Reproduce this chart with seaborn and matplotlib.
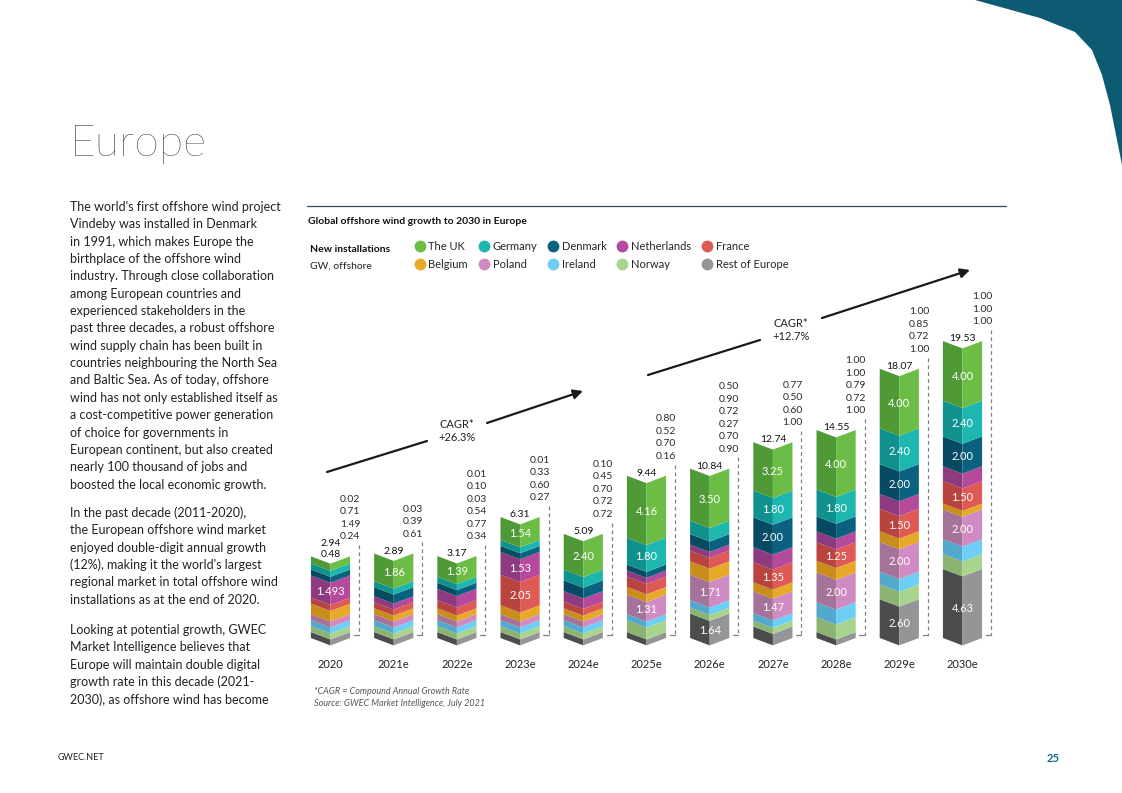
import numpy as np
import pandas as pd
import matplotlib
matplotlib.use("Agg")
import matplotlib.pyplot as plt
import seaborn as sns
from matplotlib.lines import Line2D
from matplotlib.patches import Polygon
from matplotlib.transforms import Affine2D

sns.set_theme(style="white")
plt.rcParams["font.family"] = ["Lato", "DejaVu Sans"]

# categories
years = ["2020", "2021e", "2022e", "2023e", "2024e", "2025e",
         "2026e", "2027e", "2028e", "2029e", "2030e"]
countries = ["The UK", "Germany", "Denmark", "Netherlands", "France",
             "Belgium", "Poland", "Ireland", "Norway", "Rest of Europe"]

# new installations, GW
uk = [0.48, 1.86, 1.39, 1.54, 2.40, 4.16, 3.50, 3.25, 4.00, 4.00, 4.00]
germany = [0.24, 0, 0.34, 0.27, 0.72, 1.80, 0.90, 1.80, 1.80, 2.40, 2.40]
denmark = [0, 0.61, 0, 0, 0.72, 0.16, 0.70, 2.00, 1.00, 2.00, 2.00]
netherlands = [1.493, 0.39, 0.77, 1.53, 0.70, 0, 0.27, 1.00, 0.72, 1.00, 1.00]
france = [0, 0, 0.54, 2.05, 0.45, 0.70, 0.72, 1.35, 1.25, 1.50, 1.50]
belgium = [0.71, 0, 0.03, 0.60, 0, 0.52, 0.90, 0.60, 0.79, 0.72, 0]
poland = [0, 0, 0, 0, 0, 1.31, 1.71, 1.47, 2.00, 2.00, 2.00]
ireland = [0, 0, 0, 0, 0, 0, 0.50, 0.50, 1.00, 0.85, 1.00]
norway = [0, 0, 0.10, 0.33, 0, 0.80, 0, 0, 1.00, 1.00, 1.00]
rest = [0.02, 0.03, 0.01, 0.01, 0.10, 0, 1.64, 0.77, 0, 2.60, 4.63]

totals = [2.94, 2.89, 3.17, 6.31, 5.09, 9.44, 10.84, 12.74, 14.55, 18.07, 19.53]

# small values listed beside each bar (top to bottom, as printed)
side_labels = [
    ["0.02", "0.71", "1.49", "0.24"],
    ["0.03", "0.39", "0.61"],
    ["0.01", "0.10", "0.03", "0.54", "0.77", "0.34"],
    ["0.01", "0.33", "0.60", "0.27"],
    ["0.10", "0.45", "0.70", "0.72", "0.72"],
    ["0.80", "0.52", "0.70", "0.16"],
    ["0.50", "0.90", "0.72", "0.27", "0.70", "0.90"],
    ["0.77", "0.50", "0.60", "1.00"],
    ["1.00", "1.00", "0.79", "0.72", "1.00"],
    ["1.00", "0.85", "0.72", "1.00"],
    ["1.00", "1.00", "1.00"],
]

# segments that carry their value inside the bar
inbar = [
    ["Netherlands"],
    ["The UK"],
    ["The UK"],
    ["The UK", "Netherlands", "France"],
    ["The UK"],
    ["The UK", "Germany", "Poland"],
    ["The UK", "Poland", "Rest of Europe"],
    ["The UK", "Germany", "Denmark", "France", "Poland"],
    ["The UK", "Germany", "France", "Poland"],
    ["The UK", "Germany", "Denmark", "France", "Poland", "Rest of Europe"],
    ["The UK", "Germany", "Denmark", "France", "Poland", "Rest of Europe"],
]

light = ["#6cbd45", "#1db7b0", "#0b6280", "#b54a9d", "#e05a55",
         "#e7a92a", "#d08bc2", "#6dcff6", "#a9d48e", "#959598"]
dark = ["#4f9a36", "#11918d", "#064b63", "#8e3a7e", "#b9443f",
        "#c88d1b", "#a57299", "#53a9cc", "#8bb473", "#4b4c4e"]

values = np.array([uk, germany, denmark, netherlands, france,
                   belgium, poland, ireland, norway, rest])
n = len(years)
shown = np.maximum(values, 0.4)  # keep thin layers visible, as the original does

W, H = 1122, 793
fig = plt.figure(figsize=(W / 100, H / 100), dpi=100)
fig.patch.set_facecolor("white")


def fx(px):
    return px / W


def fy(py):
    return 1 - py / H


# chart axes: bar centres at ~330px + 63.2px steps, baseline at y=638px
scale = 14.9
ax_left = 330.5 - 31.6
ax_w = 63.2 * 11
ax_bot, ax_top = 652, 280
ax = fig.add_axes([fx(ax_left), fy(ax_bot), ax_w / W, (ax_bot - ax_top) / H])

bottom = np.zeros(n)
base = {}
for c in reversed(range(len(countries))):
    df = pd.DataFrame({"year": years * 2,
                       "face": ["L"] * n + ["R"] * n,
                       "h": list(shown[c]) * 2})
    sns.barplot(data=df, x="year", y="h", hue="face", order=years,
                hue_order=["L", "R"], palette={"L": dark[c], "R": light[c]},
                width=0.62, gap=0, dodge=True, errorbar=None, saturation=1,
                bottom=bottom, legend=False, linewidth=0, ax=ax)
    base[c] = bottom.copy()
    bottom = bottom + shown[c]
tops = bottom

# turn each half bar into a slanted face -> chevron look
k = 1.6
half = 0.31
for p in ax.patches:
    x0, w = p.get_x(), p.get_width()
    x1 = x0 + w
    if abs(x1 - round(x1)) < 1e-6:
        skew = Affine2D.from_values(1, -k, 0, 1, 0, k * x0)
    else:
        skew = Affine2D.from_values(1, k, 0, 1, 0, -k * x1)
    p.set_transform(skew + ax.transData)

ax.set_xlim(-0.5, n - 0.5)
ax.set_ylim(-(ax_bot - 638) / scale, (638 - ax_top) / scale)
ax.set(xlabel="", ylabel="")
ax.set_yticks([])
ax.tick_params(axis="x", length=0, pad=5, labelsize=8, labelcolor="#222222")
sns.despine(ax=ax, left=True, bottom=True)
ax.patch.set_alpha(0)


def fmt(v):
    return f"{v:.2f}" if abs(v * 100 - round(v * 100)) < 1e-9 else f"{v:.3f}"


for i in range(n):
    # values inside the bar
    for name in inbar[i]:
        c = countries.index(name)
        y = base[c][i] + shown[c][i] / 2 - k * half * 0.7
        ax.text(i, y, fmt(values[c][i]), ha="center", va="center",
                color="white", fontsize=8, clip_on=False)
    # total on top
    top_txt = f"{totals[i]:.2f}"
    if values[0][i] < 0.5:
        top_txt += "\n" + fmt(values[0][i])
    ax.text(i, tops[i] - 0.15, top_txt, ha="center", va="bottom",
            fontsize=7.5, color="#111111", linespacing=1.25, clip_on=False)
    # side list with dashed bracket
    y0 = tops[i] + 1.3
    step = 0.84
    for j, s in enumerate(reversed(side_labels[i])):
        ax.text(i + 0.31, y0 + j * step, s, ha="center", va="center",
                fontsize=7.5, color="#2a2a2a", clip_on=False)
    ax.plot([i + 0.45, i + 0.45], [y0 - 0.55, 0.2], color="#808080",
            lw=0.9, ls=(0, (3, 2.5)), clip_on=False)
    ax.plot([i + 0.37, i + 0.45], [0.2, 0.2], color="#808080", lw=0.9,
            clip_on=False)

# CAGR arrows
def seg(p, q, arrow=False):
    ax.annotate("", xy=(fx(q[0]), fy(q[1])), xytext=(fx(p[0]), fy(p[1])),
                xycoords="figure fraction", textcoords="figure fraction",
                arrowprops=dict(arrowstyle="-|>" if arrow else "-", lw=1.6,
                                color="#1a1a1a", mutation_scale=14,
                                shrinkA=0, shrinkB=0))


seg((327, 472), (427, 441))
seg((487, 423), (583, 391), arrow=True)
fig.text(fx(457), fy(431), "CAGR*\n+26.3%", ha="center", va="center",
         fontsize=8, color="#222222", linespacing=1.15)
seg((648, 375), (760, 340))
seg((822, 318), (970, 270), arrow=True)
fig.text(fx(791), fy(330), "CAGR*\n+12.7%", ha="center", va="center",
         fontsize=8, color="#222222", linespacing=1.15)

# header, legend
fig.add_artist(Line2D([fx(307), fx(1006)], [fy(206), fy(206)],
                      color="#2f4f5a", lw=0.9))
fig.text(fx(308), fy(221), "Global offshore wind growth to 2030 in Europe",
         fontsize=7.5, fontweight="bold", color="#111111", va="center")
fig.text(fx(310), fy(249), "New installations", fontsize=7.5,
         fontweight="bold", color="#111111", va="center")
fig.text(fx(310), fy(266), "GW, offshore", fontsize=7.5, color="#222222",
         va="center")

handles = []
for col in range(5):
    for row in range(2):
        c = row * 5 + col
        handles.append(Line2D([], [], marker="o", ls="", markersize=7.5,
                              color=light[c], label=countries[c]))
fig.legend(handles=handles, ncol=5, loc="upper left",
           bbox_to_anchor=(fx(414), fy(241)), frameon=False, fontsize=8,
           handletextpad=0.3, columnspacing=0.9, labelspacing=0.6,
           handlelength=1.0, borderaxespad=0, borderpad=0)

fig.text(fx(314), fy(692), "*CAGR = Compound Annual Growth Rate",
         fontsize=6.5, style="italic", color="#555555", va="center")
fig.text(fx(314), fy(704), "Source: GWEC Market Intelligence, July 2021",
         fontsize=6.5, style="italic", color="#555555", va="center")

# page text
fig.text(fx(70), fy(145), "Europe", fontsize=32, fontweight="light",
         color="#111111", va="center")

para1 = ["The world's first offshore wind project",
         "Vindeby was installed in Denmark",
         "in 1991, which makes Europe the",
         "birthplace of the offshore wind",
         "industry. Through close collaboration",
         "among European countries and",
         "experienced stakeholders in the",
         "past three decades, a robust offshore",
         "wind supply chain has been built in",
         "countries neighbouring the North Sea",
         "and Baltic Sea. As of today, offshore",
         "wind has not only established itself as",
         "a cost-competitive power generation",
         "of choice for governments in",
         "European continent, but also created",
         "nearly 100 thousand of jobs and",
         "boosted the local economic growth."]
para2 = ["In the past decade (2011-2020),",
         "the European offshore wind market",
         "enjoyed double-digit annual growth",
         "(12%), making it the world's largest",
         "regional market in total offshore wind",
         "installations as at the end of 2020."]
para3 = ["Looking at potential growth, GWEC",
         "Market Intelligence believes that",
         "Europe will maintain double digital",
         "growth rate in this decade (2021-",
         "2030), as offshore wind has become"]
for lines, y_start in [(para1, 207), (para2, 513), (para3, 630)]:
    for j, line in enumerate(lines):
        fig.text(fx(70), fy(y_start + j * 17.35), line, fontsize=9,
                 color="#222222", va="center")

fig.text(fx(58), fy(758), "GWEC.NET", fontsize=6.5, color="#222222",
         va="center")
fig.text(fx(1060), fy(758), "25", fontsize=8, fontweight="bold",
         color="#0d6a8c", ha="right", va="center")

# corner shape
corner = [(975, 0), (1040, 18), (1075, 32), (1092, 50), (1102, 75),
          (1110, 105), (1116, 135), (1122, 165), (1122, 0)]
fig.add_artist(Polygon([(fx(a), fy(b)) for a, b in corner],
                       closed=True, transform=fig.transFigure,
                       facecolor="#0d5b73", edgecolor="none"))

fig.savefig("out.png", dpi=100)
